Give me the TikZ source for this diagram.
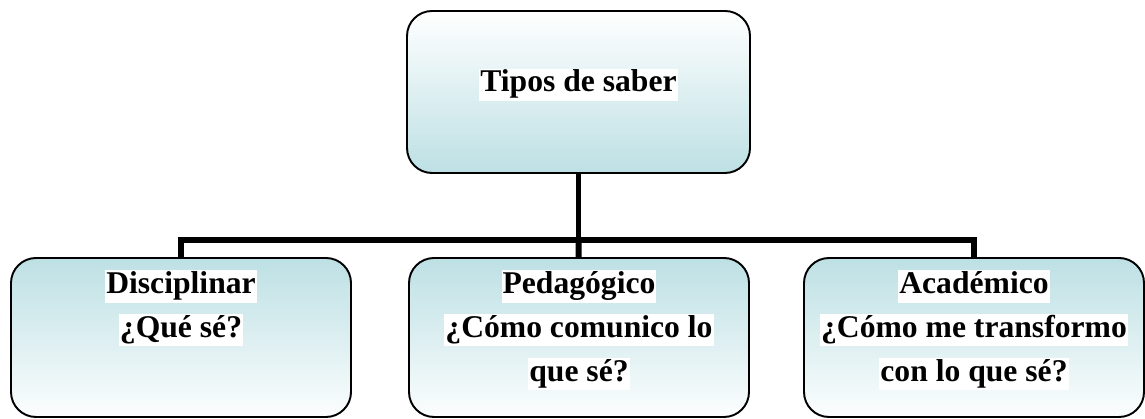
\documentclass[tikz,border=0pt]{standalone}
\usepackage{fontspec}
\setmainfont{Liberation Serif}
\definecolor{saberteal}{RGB}{189,224,228}
\newcommand{\hlw}[1]{{\setlength{\fboxsep}{0.6pt}\colorbox{white}{\rule[-4.6pt]{0pt}{17pt}#1}}}
\begin{document}
\begin{tikzpicture}[
  box/.style={shape=rectangle, rounded corners=0.5cm, draw=black, line width=1.1pt},
  topbox/.style={box, top color=white, bottom color=saberteal, minimum width=6.86cm, minimum height=3.24cm},
  subbox/.style={box, top color=saberteal, bottom color=white!95!saberteal, minimum width=6.8cm, minimum height=3.18cm},
  txt/.style={font=\fontsize{18}{25}\selectfont\bfseries, align=center, inner sep=0pt},
  conn/.style={-, line width=3.4pt, draw=black}]
\useasboundingbox (0,0) rectangle (22.9,8.38);
\node[topbox] (T) at (11.57,6.54) {};
\node[subbox] (D) at (3.62,1.63) {};
\node[subbox] (P) at (11.58,1.63) {};
\node[subbox] (A) at (19.48,1.63) {};
\coordinate (hub) at (11.57,3.58);
\path [conn] (T) edge (hub);
\path [conn] (hub) edge (P);
\draw [conn] (hub) -| (D);
\draw [conn] (hub) -| (A);
\node[txt, anchor=base] (Ttxt) at (11.57,6.54) {\hlw{Tipos de saber}};
\node[txt, anchor=north] (Dtxt) at ([yshift=-0.26cm]D.north) {\hlw{Disciplinar}\\\hlw{¿Qué sé?}};
\node[txt, anchor=north] (Ptxt) at ([yshift=-0.26cm]P.north) {\hlw{Pedagógico}\\\hlw{¿Cómo comunico lo}\\\hlw{que sé?}};
\node[txt, anchor=north] (Atxt) at ([yshift=-0.26cm]A.north) {\hlw{Académico}\\\hlw{¿Cómo me transformo}\\\hlw{con lo que sé?}};
\end{tikzpicture}
\end{document}
